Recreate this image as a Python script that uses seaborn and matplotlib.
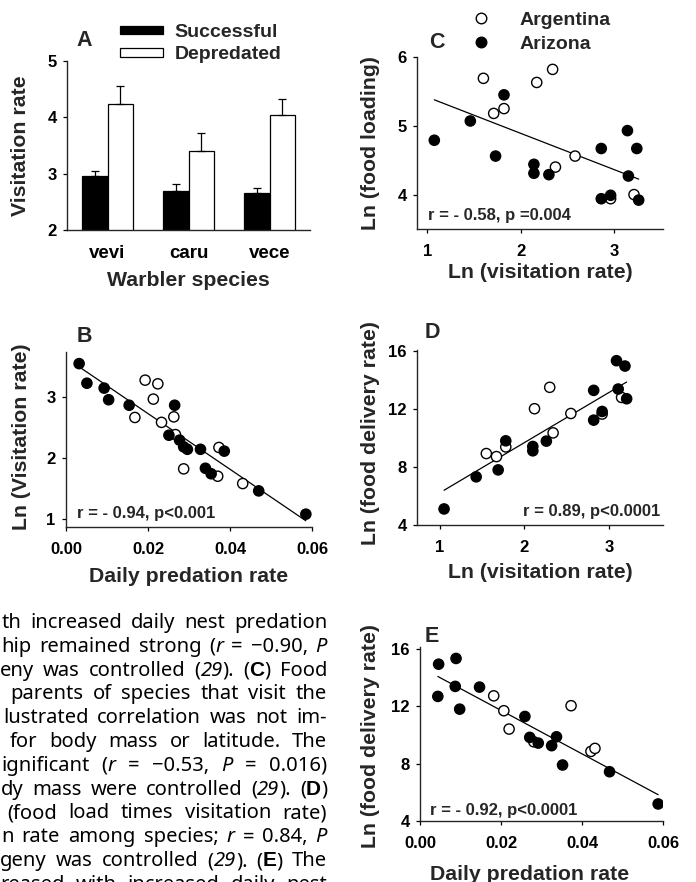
import numpy as np
import pandas as pd
import matplotlib
matplotlib.use("Agg")
import matplotlib.pyplot as plt
from matplotlib.lines import Line2D
from matplotlib.ticker import StrMethodFormatter
from matplotlib.font_manager import FontProperties
import seaborn as sns

# ------------------------------------------------------------------ data
species = ["vevi", "caru", "vece"]
nest_outcomes = ["Successful", "Depredated"]
visit_successful = [2.96, 2.70, 2.65]
visit_successful_se = [0.08, 0.11, 0.09]
visit_depredated = [4.24, 3.40, 4.04]
visit_depredated_se = [0.31, 0.33, 0.28]

regions = ["Argentina", "Arizona"]

# Panel B: daily predation rate vs ln(visitation rate)
b_arizona_pred = [0.0032, 0.0051, 0.0093, 0.0104, 0.0154, 0.0265, 0.0251, 0.0277,
                  0.0287, 0.0296, 0.0328, 0.0386, 0.0340, 0.0354, 0.0470, 0.0585]
b_arizona_lnvisit = [3.54, 3.22, 3.14, 2.95, 2.86, 2.86, 2.37, 2.29,
                     2.18, 2.14, 2.14, 2.11, 1.83, 1.74, 1.46, 1.08]
b_argentina_pred = [0.0193, 0.0224, 0.0213, 0.0168, 0.0233, 0.0263, 0.0267,
                    0.0373, 0.0287, 0.0370, 0.0431]
b_argentina_lnvisit = [3.27, 3.21, 2.96, 2.66, 2.58, 2.67, 2.38,
                       2.17, 1.82, 1.70, 1.58]

# Panel C: ln(visitation rate) vs ln(food loading)
c_arizona_lnvisit = [1.075, 1.46, 1.82, 1.73, 2.14, 2.14, 2.30, 2.86, 3.14, 3.24,
                     3.15, 2.86, 2.96, 3.26]
c_arizona_lnload = [4.79, 5.07, 5.45, 4.56, 4.44, 4.31, 4.29, 4.67, 4.93, 4.67,
                    4.27, 3.94, 3.99, 3.92]
c_argentina_lnvisit = [1.60, 2.17, 2.34, 1.71, 1.82, 2.37, 2.58, 2.96, 3.21]
c_argentina_lnload = [5.69, 5.63, 5.82, 5.18, 5.25, 4.40, 4.56, 3.94, 4.00]

# Panel D: ln(visitation rate) vs ln(food delivery rate)
d_arizona_lnvisit = [1.05, 1.43, 1.69, 1.78, 2.10, 2.10, 2.26, 2.82, 2.82, 2.92,
                     3.09, 3.19, 3.11, 3.21]
d_arizona_lndeliv = [5.11, 7.33, 7.81, 9.82, 9.43, 9.13, 9.80, 13.31, 11.25, 11.85,
                     15.36, 14.99, 13.40, 12.73]
d_argentina_lnvisit = [1.55, 1.67, 1.78, 2.12, 2.30, 2.34, 2.55, 2.92, 3.15]
d_argentina_lndeliv = [8.94, 8.73, 9.40, 12.04, 13.52, 10.37, 11.71, 11.67, 12.82]

# Panel E: daily predation rate vs ln(food delivery rate)
e_arizona_pred = [0.0046, 0.0089, 0.0044, 0.0087, 0.0098, 0.0147, 0.0259, 0.0271,
                  0.0292, 0.0325, 0.0337, 0.0352, 0.0468, 0.0588]
e_arizona_lndeliv = [14.95, 15.35, 12.70, 13.40, 11.81, 13.35, 11.30, 9.84,
                     9.44, 9.26, 9.88, 7.91, 7.44, 5.19]
e_argentina_pred = [0.0182, 0.0207, 0.0220, 0.0373, 0.0422, 0.0432, 0.0281]
e_argentina_lndeliv = [12.74, 11.70, 10.42, 12.05, 8.86, 9.07, 9.53]

stat_b = "r = - 0.94, p<0.001"
stat_c = "r = - 0.58, p =0.004"
stat_d = "r = 0.89, p<0.0001"
stat_e = "r = - 0.92, p<0.0001"

# caption fragments (n = normal, i = italic, b = bold)
caption_lines = [
    [("th increased daily nest predation", "n")],
    [("hip remained strong (", "n"), ("r", "i"), (" = \u22120.90, ", "n"), ("P", "i")],
    [("eny was controlled (", "n"), ("29", "i"), ("). (", "n"), ("C", "b"), (") Food", "n")],
    [("parents of species that visit the", "n")],
    [("lustrated correlation was not im-", "n")],
    [("for body mass or latitude. The", "n")],
    [("ignificant (", "n"), ("r", "i"), (" = \u22120.53, ", "n"), ("P", "i"), (" = 0.016)", "n")],
    [("dy mass were controlled (", "n"), ("29", "i"), ("). (", "n"), ("D", "b"), (")", "n")],
    [("(food load times visitation rate)", "n")],
    [("n rate among species; ", "n"), ("r", "i"), (" = 0.84, ", "n"), ("P", "i")],
    [("geny was controlled (", "n"), ("29", "i"), ("). (", "n"), ("E", "b"), (") The", "n")],
    [("reased with increased daily nest", "n")],
]
caption_starts = [2, 1, 0, 10, 3, 10, 1, 1, 7, 1, 0, 0]

# ------------------------------------------------------------------ style
sns.set_style("ticks")
plt.rcParams["font.family"] = ["Liberation Sans", "DejaVu Sans"]
plt.rcParams["font.weight"] = "bold"
plt.rcParams["axes.linewidth"] = 1.0
plt.rcParams["axes.labelweight"] = "bold"

W, H = 696, 882
fig = plt.figure(figsize=(W / 100, H / 100), dpi=100)
fig.patch.set_facecolor("white")


def rect(l, t, r, b):
    return [l / W, 1 - b / H, (r - l) / W, (b - t) / H]


TICK_FS = 12
LABEL_FS = 15.3
LEG_FS = 14
STAT_FS = 12
LETTER_FS = 15.5


def style_axes(ax):
    sns.despine(ax=ax)
    ax.tick_params(axis="both", direction="out", length=3, width=0.9,
                   labelsize=TICK_FS, colors="black")
    ax.tick_params(axis="x", pad=7.5)
    ax.tick_params(axis="y", pad=4.5)
    for lab in ax.get_xticklabels() + ax.get_yticklabels():
        lab.set_fontweight("bold")
    ax.set_facecolor("none")


def set_labels(ax, xlabel, ylabel, xl_y, yl_x, xl_x=0.5, yl_y=0.5):
    ax.set_xlabel(xlabel, fontsize=LABEL_FS, fontweight="bold", va="center")
    ax.set_ylabel(ylabel, fontsize=LABEL_FS, fontweight="bold", va="center")
    ax.xaxis.set_label_coords(xl_x, xl_y)
    ax.yaxis.set_label_coords(yl_x, yl_y)


def scatter_panel(ax, arg_x, arg_y, ari_x, ari_y):
    df = pd.DataFrame({
        "x": list(arg_x) + list(ari_x),
        "y": list(arg_y) + list(ari_y),
        "region": [regions[0]] * len(arg_x) + [regions[1]] * len(ari_x),
    })
    sns.regplot(data=df, x="x", y="y", scatter=False, ci=None, truncate=True,
                color="black", line_kws={"linewidth": 0.9}, ax=ax)
    sns.scatterplot(data=df, x="x", y="y", hue="region", hue_order=regions,
                    palette={"Argentina": "white", "Arizona": "black"},
                    edgecolor="black", linewidth=1.0, s=54, legend=False,
                    zorder=3, ax=ax)


# ------------------------------------------------------------------ panel A
df_a = pd.DataFrame({
    "species": species * 2,
    "outcome": [nest_outcomes[0]] * 3 + [nest_outcomes[1]] * 3,
    "rate": visit_successful + visit_depredated,
})
axA = fig.add_axes(rect(67, 61, 310, 230))
sns.barplot(data=df_a, x="species", y="rate", hue="outcome", hue_order=nest_outcomes,
            palette=["black", "white"], edgecolor="black", linewidth=0.9,
            width=0.62, errorbar=None, saturation=1, ax=axA)
for cont, ses in zip(axA.containers, [visit_successful_se, visit_depredated_se]):
    for bar, se in zip(cont, ses):
        xc = bar.get_x() + bar.get_width() / 2
        axA.errorbar([xc], [bar.get_height()], yerr=[[0], [se]], fmt="none",
                     ecolor="black", elinewidth=0.9, capsize=3, capthick=0.9, zorder=4)
handles, labels = axA.get_legend_handles_labels()
if axA.get_legend() is not None:
    axA.get_legend().remove()
axA.set_ylim(2, 5)
axA.set_xlim(-0.5, 2.5)
axA.set_yticks([2, 3, 4, 5])
style_axes(axA)
axA.tick_params(axis="x", length=0, pad=11, labelsize=13.5)
set_labels(axA, "Warbler species", "Visitation rate", (230 - 280) / 169, (21 - 67) / 243)
fig.legend(handles, labels, loc="upper left", bbox_to_anchor=(120 / W, 1 - 24 / H),
           frameon=False, borderpad=0, borderaxespad=0, handlelength=2.2,
           handleheight=0.27, handletextpad=0.62, labelspacing=0.28,
           prop={"size": LEG_FS, "weight": "bold"})

# ------------------------------------------------------------------ panel B
axB = fig.add_axes(rect(66, 352, 312, 527))
scatter_panel(axB, b_argentina_pred, b_argentina_lnvisit, b_arizona_pred, b_arizona_lnvisit)
axB.set_xlim(0, 0.06)
axB.set_ylim(0.87, 3.73)
axB.set_xticks([0, 0.02, 0.04, 0.06])
axB.set_yticks([1, 2, 3])
axB.xaxis.set_major_formatter(StrMethodFormatter("{x:.2f}"))
style_axes(axB)
set_labels(axB, "Daily predation rate", "Ln (Visitation rate)",
           (527 - 577) / 175, (22 - 66) / 246, yl_y=(527 - 437) / 175)

# ------------------------------------------------------------------ panel C
axC = fig.add_axes(rect(417, 57, 663, 229))
scatter_panel(axC, c_argentina_lnvisit, c_argentina_lnload, c_arizona_lnvisit, c_arizona_lnload)
axC.set_xlim(0.89, 3.52)
axC.set_ylim(3.5, 6.0)
axC.set_xticks([1, 2, 3])
axC.set_yticks([4, 5, 6])
style_axes(axC)
set_labels(axC, "Ln (visitation rate)", "Ln (food loading)",
           (229 - 272) / 172, (370 - 417) / 246)
leg_handles = [Line2D([], [], marker="o", linestyle="none", markersize=7.6,
                      markerfacecolor=c, markeredgecolor="black", markeredgewidth=1.0)
               for c in ["white", "black"]]
fig.legend(leg_handles, regions, loc="upper left", bbox_to_anchor=(471.5 / W, 1 - 11 / H),
           frameon=False, borderpad=0, borderaxespad=0, handlelength=1.0,
           handletextpad=1.48, labelspacing=0.35, prop={"size": LEG_FS, "weight": "bold"})

# ------------------------------------------------------------------ panel D
axD = fig.add_axes(rect(417, 350, 663, 525))
scatter_panel(axD, d_argentina_lnvisit, d_argentina_lndeliv, d_arizona_lnvisit, d_arizona_lndeliv)
axD.set_xlim(0.73, 3.64)
axD.set_ylim(4, 16.1)
axD.set_xticks([1, 2, 3])
axD.set_yticks([4, 8, 12, 16])
style_axes(axD)
set_labels(axD, "Ln (visitation rate)", "Ln (food delivery rate)",
           (525 - 573) / 175, (370 - 417) / 246, yl_y=(525 - 433) / 175)

# ------------------------------------------------------------------ panel E
axE = fig.add_axes(rect(420, 647, 663, 821))
scatter_panel(axE, e_argentina_pred, e_argentina_lndeliv, e_arizona_pred, e_arizona_lndeliv)
axE.set_xlim(0, 0.06)
axE.set_ylim(4, 16.15)
axE.set_xticks([0, 0.02, 0.04, 0.06])
axE.set_yticks([4, 8, 12, 16])
axE.xaxis.set_major_formatter(StrMethodFormatter("{x:.2f}"))
style_axes(axE)
set_labels(axE, "Daily predation rate", "Ln (food delivery rate)",
           (821 - 874) / 174, (370 - 420) / 243, xl_x=(530 - 420) / 243,
           yl_y=(821 - 736) / 174)

# ------------------------------------------------------------------ letters & stats
for letter, (px, py) in zip("ABCDE", [(84, 41), (84, 337), (437, 42), (432, 332), (432, 636)]):
    fig.text(px / W, 1 - py / H, letter, ha="center", va="center",
             fontsize=LETTER_FS, fontweight="bold")

for txt, (px, py, ha) in zip([stat_b, stat_c, stat_d, stat_e],
                             [(77, 518, "left"), (428, 220, "left"),
                              (660, 516, "right"), (430, 815, "left")]):
    fig.text(px / W, 1 - py / H, txt, ha=ha, va="baseline",
             fontsize=STAT_FS, fontweight="bold")

# ------------------------------------------------------------------ caption text
CAP_FS = 14.5
cap_props = {
    "n": FontProperties(family=["Noto Sans", "DejaVu Sans"], size=CAP_FS),
    "i": FontProperties(family=["Noto Sans", "DejaVu Sans"], style="italic", size=CAP_FS),
    "b": FontProperties(family=["Liberation Sans", "DejaVu Sans"], weight="bold", size=CAP_FS + 0.5),
}
renderer = fig.canvas.get_renderer()


def text_w(s, prop):
    w1, _, _ = renderer.get_text_width_height_descent("x" + s + "x", prop, ismath=False)
    w0, _, _ = renderer.get_text_width_height_descent("xx", prop, ismath=False)
    return w1 - w0


RIGHT = 327
for k, (segs, x0) in enumerate(zip(caption_lines, caption_starts)):
    base = 628 + k * 23.8
    natural = sum(text_w(s, cap_props[st]) for s, st in segs)
    nsp = sum(s.count(" ") for s, st in segs)
    extra = (RIGHT - x0 - natural) / nsp if nsp else 0
    pos = x0
    for s, st in segs:
        prop = cap_props[st]
        parts = s.split(" ")
        for j, p in enumerate(parts):
            if j > 0:
                pos += text_w(" ", prop) + extra
            if p:
                fig.text(pos / W, 1 - base / H, p, ha="left", va="baseline",
                         fontproperties=prop, color="black")
                pos += text_w(p, prop)

fig.savefig("out.png", dpi=100, facecolor="white")
